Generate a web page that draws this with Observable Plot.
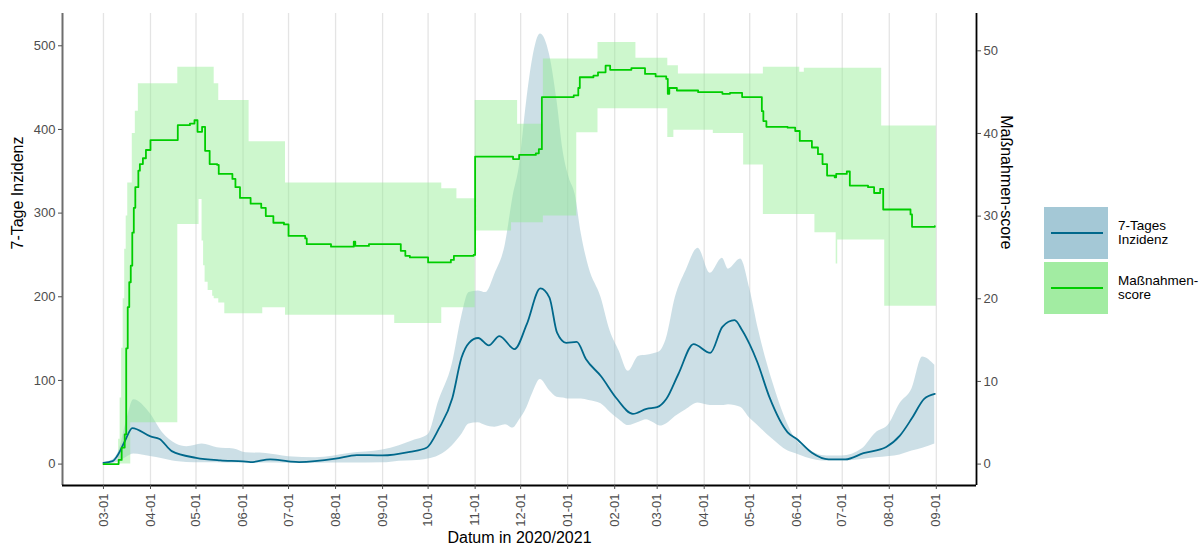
<!DOCTYPE html>
<html>
<head>
<meta charset="utf-8">
<script src="https://cdn.jsdelivr.net/npm/d3@7"></script>
<script src="https://cdn.jsdelivr.net/npm/@observablehq/plot@0.6"></script>
<style>
  body { margin: 0; background: #fff; font-family: "Liberation Sans", Arial, sans-serif; }
  #wrap { position: relative; width: 1204px; height: 552px; overflow: hidden; }
  .key { position: absolute; left: 1044px; width: 64px; height: 52px; }
  .key .ln { position: absolute; left: 7px; width: 52px; top: 25px; height: 0; border-top: 2.2px solid; }
  .lab { position: absolute; left: 1118px; font-size: 13.5px; line-height: 14.5px; color: #000; }
</style>
</head>
<body>
<div id="wrap"></div>
<script>
// ---- tick values ----
const monthTicks = ["2020-03-01","2020-04-01","2020-05-01","2020-06-01","2020-07-01","2020-08-01","2020-09-01",
  "2020-10-01","2020-11-01","2020-12-01","2021-01-01","2021-02-01","2021-03-01","2021-04-01","2021-05-01",
  "2021-06-01","2021-07-01","2021-08-01","2021-09-01"];
const leftTicks = [0, 100, 200, 300, 400, 500];
const rightTicks = [0, 10, 20, 30, 40, 50];

// ---- 7-Tages Inzidenz (mean line) ----
const incDates = ["2020-03-01","2020-03-07","2020-03-10","2020-03-15","2020-03-20","2020-04-01","2020-04-07","2020-04-15",
  "2020-05-01","2020-05-17","2020-06-01","2020-06-06","2020-06-19","2020-07-01","2020-07-08","2020-08-01","2020-08-15",
  "2020-09-01","2020-09-19","2020-09-30","2020-10-08","2020-10-17","2020-10-23","2020-10-28","2020-11-03","2020-11-10",
  "2020-11-17","2020-11-27","2020-12-05","2020-12-14","2020-12-20","2020-12-25","2020-12-31","2021-01-07","2021-01-13",
  "2021-01-23","2021-02-02","2021-02-13","2021-02-22","2021-03-01","2021-03-07","2021-03-15","2021-03-25","2021-04-05",
  "2021-04-13","2021-04-21","2021-04-26","2021-05-01","2021-05-06","2021-05-14","2021-05-26","2021-06-01","2021-06-11",
  "2021-06-22","2021-07-03","2021-07-15","2021-07-30","2021-08-08","2021-08-16","2021-08-24","2021-08-31"];
const incValues = [1.5,3.5,9.5,27,43,33,30,15.5,
  7.5,4.4,3.2,2.4,5.6,3.2,2.4,6.4,10.8,
  10.4,14.7,19.5,42,79,127,145,150.7,142,
  153,137.5,167,210,199,157,145,146,125.6,
  105,79,60,66,68,77.7,107.7,143.5,133,
  164,172,160,143,122,80,38,30,13.5,
  5.6,5.6,13,20.5,34,55,78,84];

// ---- 7-Tages Inzidenz (band) ----
const bandDates = ["2020-03-01","2020-03-07","2020-03-11","2020-03-16","2020-03-21","2020-04-01","2020-04-09","2020-04-18",
  "2020-04-25","2020-05-05","2020-05-15","2020-05-26","2020-06-03","2020-06-16","2020-07-01","2020-07-19","2020-08-10",
  "2020-09-01","2020-09-12","2020-09-21","2020-10-01","2020-10-08","2020-10-17","2020-10-23","2020-10-28","2020-11-03",
  "2020-11-08","2020-11-14","2020-11-21","2020-11-26","2020-11-30","2020-12-05","2020-12-09","2020-12-14","2020-12-20",
  "2020-12-25","2020-12-29","2021-01-02","2021-01-06","2021-01-10","2021-01-15","2021-01-23","2021-01-29","2021-02-04",
  "2021-02-10","2021-02-17","2021-02-22","2021-02-26","2021-03-03","2021-03-07","2021-03-13","2021-03-20","2021-03-28",
  "2021-04-05","2021-04-13","2021-04-17","2021-04-25","2021-05-01","2021-05-07","2021-05-16","2021-05-26","2021-06-01",
  "2021-06-07","2021-06-21","2021-07-01","2021-07-14","2021-07-23","2021-08-01","2021-08-08","2021-08-16","2021-08-23",
  "2021-08-31"];
const bandLow = [0,0.5,3,8,12,9,6.5,3,
  2,1.5,1.5,1.2,1.2,1.2,1,1,1.2,
  1.5,3.5,4,6,10,22,35,48,49.4,
  46,44,47,43,52,67,85,101,88,
  80,79,77.7,77.7,77.7,76,72,62,53,
  46,50,53,50,45.5,48,57,65,73,
  70,70,71,68,55,45,30,16,12,
  8,3.6,3.6,5.5,7.5,9,11,15.5,19,
  24];
const bandHigh = [2,5,15,50,77,60,37.5,24,
  20.7,24,19.5,18,13.5,12.7,8.8,7.5,12.7,
  16.7,22,28,35,75,120,175,205,207,
  205,227,263,320,354,434,485,514,490,
  434,374,342,322,275,235,199,159,135,
  111,129,130,131.6,135,149.5,199,231,258,
  228,246,233,245,210,159,99,48,28,
  19.5,9.6,9.6,18,37,48,72,90,128,
  118];

// ---- Maßnahmen-score (line) ----
const scoreDates = ["2020-03-01","2020-03-11","2020-03-13","2020-03-15","2020-03-16","2020-03-17","2020-03-18","2020-03-19",
  "2020-03-20","2020-03-21","2020-03-22","2020-03-24","2020-03-25","2020-03-27","2020-03-29","2020-04-01","2020-04-19",
  "2020-04-27","2020-04-30","2020-05-02","2020-05-05","2020-05-07","2020-05-10","2020-05-15","2020-05-16","2020-05-25",
  "2020-05-27","2020-05-30","2020-06-06","2020-06-13","2020-06-16","2020-06-21","2020-06-28","2020-07-01","2020-07-12",
  "2020-07-13","2020-07-29","2020-08-13","2020-08-14","2020-08-23","2020-09-10","2020-09-13","2020-09-16","2020-09-19",
  "2020-10-01","2020-10-16","2020-10-18","2020-10-31","2020-11-01","2020-11-26","2020-11-30","2020-12-11","2020-12-13",
  "2020-12-15","2021-01-05","2021-01-08","2021-01-09","2021-01-18","2021-01-21","2021-01-26","2021-01-29","2021-02-12",
  "2021-02-21","2021-02-28","2021-03-07","2021-03-08","2021-03-09","2021-03-14","2021-03-28","2021-04-13","2021-04-18",
  "2021-04-26","2021-05-09","2021-05-10","2021-05-12","2021-05-26","2021-05-31","2021-06-03","2021-06-11","2021-06-15",
  "2021-06-18","2021-06-21","2021-06-26","2021-06-27","2021-07-04","2021-07-06","2021-07-18","2021-07-22","2021-07-26",
  "2021-07-28","2021-08-12","2021-08-15","2021-08-16","2021-08-23","2021-08-31"];
const scoreValues = [0,0.5,2,3.6,14,19,22,24,
  28,31,33.5,35.5,36.3,37,38,39.2,41,
  41.2,41.6,40.2,40.8,37.9,36.3,36.2,35.1,34.5,
  33.5,32.2,31.5,31,30,29.2,29,27.6,27.3,
  26.6,26.3,26.9,26.4,26.6,26.6,25.8,25.2,25,
  24.4,24.7,25.2,25.3,37.2,36.9,37.4,37.6,38.1,
  44.4,44.6,45.5,46.8,47,47.4,48.2,47.7,47.9,
  47.2,46.9,46.6,44.8,45.5,45.2,45,44.8,44.9,
  44.4,42.7,41.5,40.8,40.7,40.3,39.1,38.3,37.5,
  36.3,34.9,34.7,35.1,35.4,33.7,33.5,32.8,33.3,
  30.8,30.8,30.2,28.7,28.7,28.8];

// ---- Maßnahmen-score (band, step changes) ----
const sBandDates = ["2020-03-01","2020-03-11","2020-03-12","2020-03-13","2020-03-14","2020-03-15","2020-03-16","2020-03-17",
  "2020-03-19","2020-03-20","2020-03-22","2020-03-24","2020-04-19","2020-05-03","2020-05-05","2020-05-06","2020-05-07",
  "2020-05-09","2020-05-12","2020-05-13","2020-05-16","2020-05-20","2020-06-05","2020-06-14","2020-06-29","2020-09-09",
  "2020-10-10","2020-10-20","2020-11-01","2020-11-25","2020-11-29","2020-12-16","2021-01-07","2021-01-21","2021-02-15",
  "2021-03-08","2021-03-12","2021-03-15","2021-04-07","2021-04-27","2021-05-10","2021-06-03","2021-06-06","2021-06-13",
  "2021-06-27","2021-06-28","2021-07-27","2021-07-29","2021-09-01"];
const sBandLow = [0,0,0,0,0,0,0,0,
  5,5,5,5,29,32,27,24,22,
  21,20.3,20,19.5,18.2,18.2,18.9,18,17,
  18.9,18.9,28.2,29.2,29.2,30,40.1,43,43,
  39.5,40.4,40.4,40,36.2,30.2,30.2,30.2,28,
  24.2,27.1,27.1,19.1,19.1];
const sBandHigh = [0,3,8,14,20,26,30,34,
  34,40,42.7,46,48,48,48,48,48,
  48,48,46,44,44,39,39,34,34,
  33.3,32.1,44,44,41.1,49,49,51,49.1,
  48.2,48.2,47.2,47.2,47.2,48,47.4,47.9,47.9,
  47.9,47.9,40.9,40.9,40.9];

// ---- build ----
const k = 9.88; // secondary axis: score -> left-axis units
const parse = d3.utcParse("%Y-%m-%d");
const ticks = monthTicks.map(parse);
const incMean = incDates.map((d, i) => ({date: parse(d), v: incValues[i]}));
const incBand = bandDates.map((d, i) => ({date: parse(d), lo: bandLow[i], hi: bandHigh[i]}));
const score = scoreDates.map((d, i) => ({date: parse(d), v: scoreValues[i] * k}));
const sBand = sBandDates.map((d, i) => ({date: parse(d), lo: sBandLow[i] * k, hi: sBandHigh[i] * k}));
const xDom = [parse("2020-02-03"), new Date(Date.UTC(2021, 8, 27, 12))];
const yDom = [-25.6, 538.6];

const chart = Plot.plot({
  width: 1204, height: 552,
  marginLeft: 62, marginRight: 228, marginTop: 13, marginBottom: 67,
  style: {fontFamily: "'Liberation Sans', Arial, sans-serif", background: "#fff", overflow: "visible"},
  x: {type: "utc", domain: xDom},
  y: {domain: yDom},
  marks: [
    Plot.gridX(ticks, {stroke: "#e4e4e4", strokeOpacity: 1, strokeWidth: 1.3}),
    Plot.areaY(incBand, {x: "date", y1: "lo", y2: "hi", fill: "#9AC0CD", fillOpacity: 0.5, curve: "monotone-x"}),
    Plot.areaY(sBand, {x: "date", y1: "lo", y2: "hi", fill: "#90EE90", fillOpacity: 0.45, curve: "step-after"}),
    Plot.lineY(incMean, {x: "date", y: "v", stroke: "#00688B", strokeWidth: 1.8, curve: "monotone-x"}),
    Plot.lineY(score, {x: "date", y: "v", stroke: "#00CD00", strokeWidth: 1.8, curve: "step-after"}),
    Plot.ruleX([xDom[0]], {stroke: "#6e6e6e", strokeWidth: 2}),
    Plot.ruleX([xDom[1]], {stroke: "#000", strokeWidth: 1.8}),
    Plot.ruleY([yDom[0]], {stroke: "#000", strokeWidth: 2}),
    Plot.axisX(ticks, {tickFormat: d3.utcFormat("%m-%d"), tickRotate: -90, tickSize: 4, tickPadding: 4,
      fontSize: 13, color: "#4d4d4d", label: null}),
    Plot.axisY(leftTicks, {anchor: "left", tickSize: 4, tickPadding: 3, fontSize: 13, color: "#4d4d4d", label: null}),
    Plot.axisY(rightTicks.map(v => v * k), {anchor: "right", tickSize: 4, tickPadding: 3, fontSize: 13,
      color: "#4d4d4d", label: null, tickFormat: d => String(Math.round(d / k))}),
    Plot.text(["7-Tage Inzidenz"], {text: d => d, frameAnchor: "left", dx: -45, rotate: -90, fontSize: 16, fill: "#000"}),
    Plot.text(["Maßnahmen-score"], {text: d => d, frameAnchor: "right", dx: 30, rotate: 90, fontSize: 16, fill: "#000"}),
    Plot.text(["Datum in 2020/2021"], {text: d => d, frameAnchor: "bottom", dy: 57, fontSize: 16, fill: "#000"})
  ]
});

const wrap = document.getElementById("wrap");
wrap.appendChild(chart);

// ---- legend ----
const legendItems = [
  {lines: ["7-Tages", "Inzidenz"], fill: "#a4c8d6", stroke: "#00688B", top: 207},
  {lines: ["Maßnahmen-", "score"], fill: "#a2eca2", stroke: "#00CD00", top: 262}
];
for (const it of legendItems) {
  const key = document.createElement("div");
  key.className = "key";
  key.style.top = it.top + "px";
  key.style.background = it.fill;
  const ln = document.createElement("div");
  ln.className = "ln";
  ln.style.borderTopColor = it.stroke;
  key.appendChild(ln);
  wrap.appendChild(key);
  const lab = document.createElement("div");
  lab.className = "lab";
  lab.style.top = (it.top + 26 - 14.5) + "px";
  lab.innerHTML = it.lines.join("<br>");
  wrap.appendChild(lab);
}
</script>
</body>
</html>
